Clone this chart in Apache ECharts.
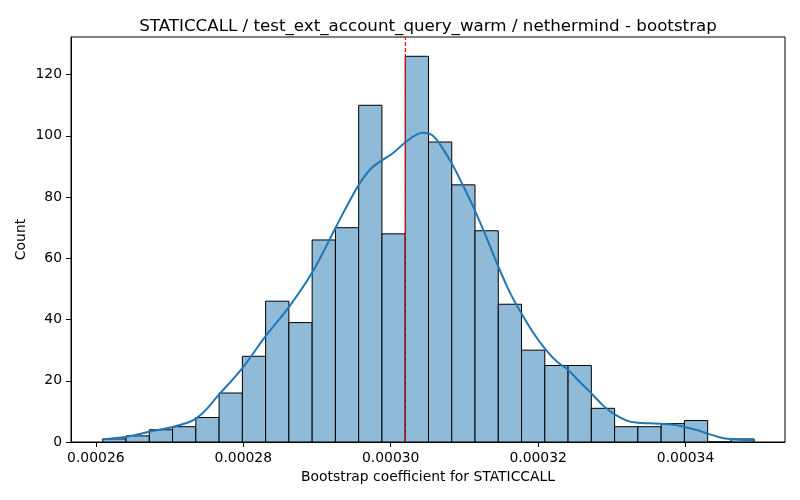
<!DOCTYPE html>
<html>
<head>
<meta charset="utf-8">
<script src="https://cdn.jsdelivr.net/npm/echarts@6/dist/echarts.min.js"></script>
<style>
  html, body { margin: 0; padding: 0; background: #fff; }
  #main { width: 800px; height: 500px; }
</style>
</head>
<body>
<div id="main"></div>
<script>
// histogram bins (28 equal bins between binMin and binMax)
var binMin = 0.00026094;
var binMax = 0.00034931;
var counts = [1, 2, 4, 5, 8, 16, 28, 46, 39, 66, 70, 110, 68, 126, 98, 84, 69, 45, 30, 25, 25, 11, 5, 5, 6, 7, 0, 1];

// kde curve (x = coefficient, y = count scale)
var kdeX = [0.00026094, 0.00026417, 0.00026735, 0.00027052, 0.00027366, 0.00027685, 0.00027993, 0.00028300,
  0.00028626, 0.00028938, 0.00029252, 0.00029404, 0.00029567, 0.00029721, 0.00029879, 0.00030037, 0.00030200,
  0.00030354, 0.00030444, 0.00030580, 0.00030715, 0.00030824, 0.00030987, 0.00031136, 0.00031304, 0.00031448,
  0.00031620, 0.00031770, 0.00031936, 0.00032086, 0.00032254, 0.00032403, 0.00032570, 0.00032710, 0.00032886,
  0.00033027, 0.00033204, 0.00033344, 0.00033520, 0.00033660, 0.00033836, 0.00033972, 0.00034154, 0.00034289,
  0.00034469, 0.00034605, 0.00034931];
var kdeY = [0.9, 1.7, 3.4, 5.0, 7.8, 15.9, 24.3, 34.5,
  44.3, 55.5, 70, 77, 84, 89, 92, 94.5, 97.9,
  100.5, 101, 99.9, 95.5, 91.2, 83.5, 76, 66.5, 58,
  48.7, 42.1, 35.6, 30.7, 26.3, 23.6, 19.5, 16.2, 11.8,
  9.2, 7.0, 6.3, 6.1, 6.0, 5.6, 5.0, 3.9, 2.8,
  1.5, 1.0, 0.65];

var refLine = 0.000302;
var xTicks = [0.00026, 0.00028, 0.00030, 0.00032, 0.00034];
var yTicks = [0, 20, 40, 60, 80, 100, 120];
var xMin = 0.00025663, xMax = 0.00035349;
var yMax = 132.3;

var binW = (binMax - binMin) / counts.length;
var histData = counts.map(function (c, i) {
  return [binMin + i * binW, binMin + (i + 1) * binW, c];
});
var kdeData = kdeX.map(function (x, i) { return [x, kdeY[i]]; });

var font = 'DejaVu Sans';
var myChart = echarts.init(document.getElementById('main'));

var option = {
  animation: false,
  textStyle: { fontFamily: font },
  title: {
    text: 'STATICCALL / test_ext_account_query_warm / nethermind - bootstrap',
    left: 423,
    textAlign: 'center',
    top: 13,
    textStyle: { fontFamily: font, fontSize: 16.7, fontWeight: 'normal', color: '#000' }
  },
  grid: {
    left: 71, right: 15, top: 37, bottom: 58,
    show: true, borderColor: '#000', borderWidth: 1, backgroundColor: 'transparent'
  },
  xAxis: {
    type: 'value',
    min: xMin,
    max: xMax,
    name: 'Bootstrap coefficient for STATICCALL',
    nameLocation: 'middle',
    nameGap: 28,
    nameTextStyle: { fontFamily: font, fontSize: 13.9, color: '#000' },
    axisLine: { show: true, onZero: false, lineStyle: { color: '#000', width: 1 } },
    axisTick: { show: true, length: 5, customValues: xTicks, lineStyle: { color: '#000' } },
    axisLabel: {
      customValues: xTicks, margin: 9, fontSize: 13.9, color: '#000', fontFamily: font,
      formatter: function (v) { return v.toFixed(5); }
    },
    splitLine: { show: false }
  },
  yAxis: {
    type: 'value',
    min: 0,
    max: yMax,
    name: 'Count',
    nameLocation: 'middle',
    nameGap: 43,
    nameMoveOverlap: false,
    nameTextStyle: { fontFamily: font, fontSize: 13.9, color: '#000' },
    axisLine: { show: true, lineStyle: { color: '#000', width: 1 } },
    axisTick: { show: true, length: 5, customValues: yTicks, lineStyle: { color: '#000' } },
    axisLabel: { customValues: yTicks, margin: 9, fontSize: 13.9, color: '#000', fontFamily: font },
    splitLine: { show: false }
  },
  series: [
    {
      type: 'custom',
      data: histData,
      encode: { x: [0, 1], y: 2 },
      renderItem: function (params, api) {
        var p0 = api.coord([api.value(0), 0]);
        var p1 = api.coord([api.value(1), api.value(2)]);
        return {
          type: 'rect',
          shape: { x: p0[0], y: p1[1], width: p1[0] - p0[0], height: p0[1] - p1[1] },
          style: { fill: '#8fbbd9', stroke: '#000', lineWidth: 1 }
        };
      },
      z: 2
    },
    {
      type: 'line',
      data: kdeData,
      smooth: 0.4,
      showSymbol: false,
      lineStyle: { color: '#1f77b4', width: 2 },
      z: 3
    },
    {
      // vertical reference line across the full plot height
      type: 'line',
      data: [[refLine, 0], [refLine, yMax]],
      showSymbol: false,
      silent: true,
      color: '#ff0000',
      itemStyle: { color: '#ff0000' },
      lineStyle: { color: '#ff0000', type: [4, 2], width: 1.2, opacity: 1 },
      z: 10
    }
  ]
};

myChart.setOption(option);
</script>
</body>
</html>
